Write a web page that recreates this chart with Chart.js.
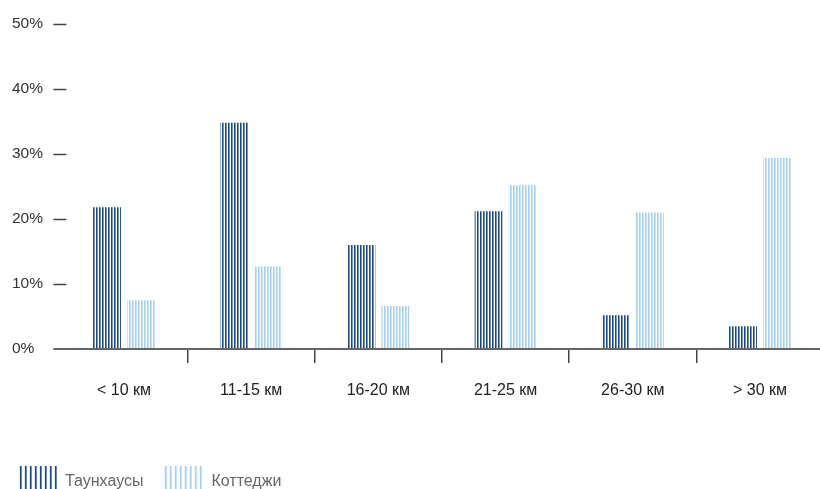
<!DOCTYPE html>
<html>
<head>
<meta charset="utf-8">
<script src="https://cdn.jsdelivr.net/npm/chart.js@4/dist/chart.umd.min.js"></script>
<style>
  html, body { margin: 0; padding: 0; background: #fff; overflow: hidden; }
  #wrap { width: 820px; height: 489px; overflow: hidden; }
</style>
</head>
<body>
<div id="wrap"><canvas id="chart" width="830" height="508"></canvas></div>
<script>
const categories = ['< 10 км', '11-15 км', '16-20 км', '21-25 км', '26-30 км', '> 30 км'];
const seriesNames = ['Таунхаусы', 'Коттеджи'];
const townhouses = [21.8, 34.8, 16.0, 21.2, 5.2, 3.5];
const cottages = [7.5, 12.7, 6.6, 25.2, 21.0, 29.4];

Chart.defaults.font.family = '"Liberation Sans", Arial, sans-serif';

// vertical stripes, one pixel column per colour
function stripes(cols) {
    const c = document.createElement('canvas');
    c.width = cols.length;
    c.height = 1;
    const g = c.getContext('2d');
    cols.forEach((col, i) => { g.fillStyle = col; g.fillRect(i, 0, 1, 1); });
    return g.createPattern(c, 'repeat');
}

const darkBar = stripes(['#1b4a80', '#7893b4', '#ffffff']);
const lightBar = stripes(['#a4d0ee', '#c6e2f4', '#ffffff']);
const darkKey = stripes(['#1b4a80', '#6f8cb0', '#ffffff', '#ffffff', '#e4eaf1']);
const lightKey = stripes(['#a4d0ee', '#c6e2f4', '#ffffff', '#ffffff', '#eef6fb']);

// y tick dashes + baseline like the original
const axisMarks = {
    id: 'axisMarks',
    afterLayout(chart) {
        chart.legend.left -= 15;
    },
    afterDraw(chart) {
        const ctx = chart.ctx;
        const y = chart.scales.y;
        const area = chart.chartArea;
        ctx.save();
        ctx.strokeStyle = '#444';
        ctx.lineWidth = 1.5;
        y.ticks.forEach(t => {
            if (t.value === 0) return;
            const py = Math.round(y.getPixelForValue(t.value)) + 0.5;
            ctx.beginPath();
            ctx.moveTo(area.left - 7, py);
            ctx.lineTo(area.left + 6, py);
            ctx.stroke();
        });
        ctx.strokeStyle = '#666';
        ctx.lineWidth = 2;
        const by = y.getPixelForValue(0);
        ctx.beginPath();
        ctx.moveTo(area.left - 7, by);
        ctx.lineTo(area.right, by);
        ctx.stroke();
        ctx.restore();
    }
};

new Chart(document.getElementById('chart'), {
    type: 'bar',
    data: {
        labels: categories,
        datasets: [
            { label: seriesNames[0], data: townhouses, backgroundColor: darkBar, borderWidth: 0 },
            { label: seriesNames[1], data: cottages, backgroundColor: lightBar, borderWidth: 0 }
        ]
    },
    options: {
        responsive: false,
        animation: false,
        categoryPercentage: 0.535,
        barPercentage: 0.82,
        layout: {
            padding: { left: 12, right: 6.4, top: 24, bottom: 0 }
        },
        scales: {
            x: {
                afterFit: s => { s.height = 97; },
                border: { display: false },
                grid: {
                    drawOnChartArea: false,
                    tickLength: 14,
                    lineWidth: 1.5,
                    color: c => (c.index === 0 || c.index === categories.length) ? 'rgba(0,0,0,0)' : '#444'
                },
                ticks: {
                    color: '#222',
                    padding: 18,
                    font: { size: 16 }
                }
            },
            y: {
                min: 0,
                max: 50,
                afterFit: s => { s.width = 48.4; },
                border: { display: false },
                grid: { display: false },
                ticks: {
                    stepSize: 10,
                    crossAlign: 'far',
                    color: '#333',
                    font: { size: 15.5 },
                    callback: v => v + '%'
                }
            }
        },
        plugins: {
            tooltip: { enabled: false },
            legend: {
                position: 'bottom',
                align: 'start',
                labels: {
                    boxWidth: 40,
                    boxHeight: 32,
                    padding: 20,
                    color: '#666',
                    font: { size: 16 },
                    generateLabels: chart => {
                        const items = Chart.defaults.plugins.legend.labels.generateLabels(chart);
                        const keys = [darkKey, lightKey];
                        items.forEach((it, i) => {
                            it.fillStyle = keys[i];
                            it.lineWidth = 0;
                            it.strokeStyle = 'rgba(0,0,0,0)';
                        });
                        return items;
                    }
                }
            }
        }
    },
    plugins: [axisMarks]
});
</script>
</body>
</html>
